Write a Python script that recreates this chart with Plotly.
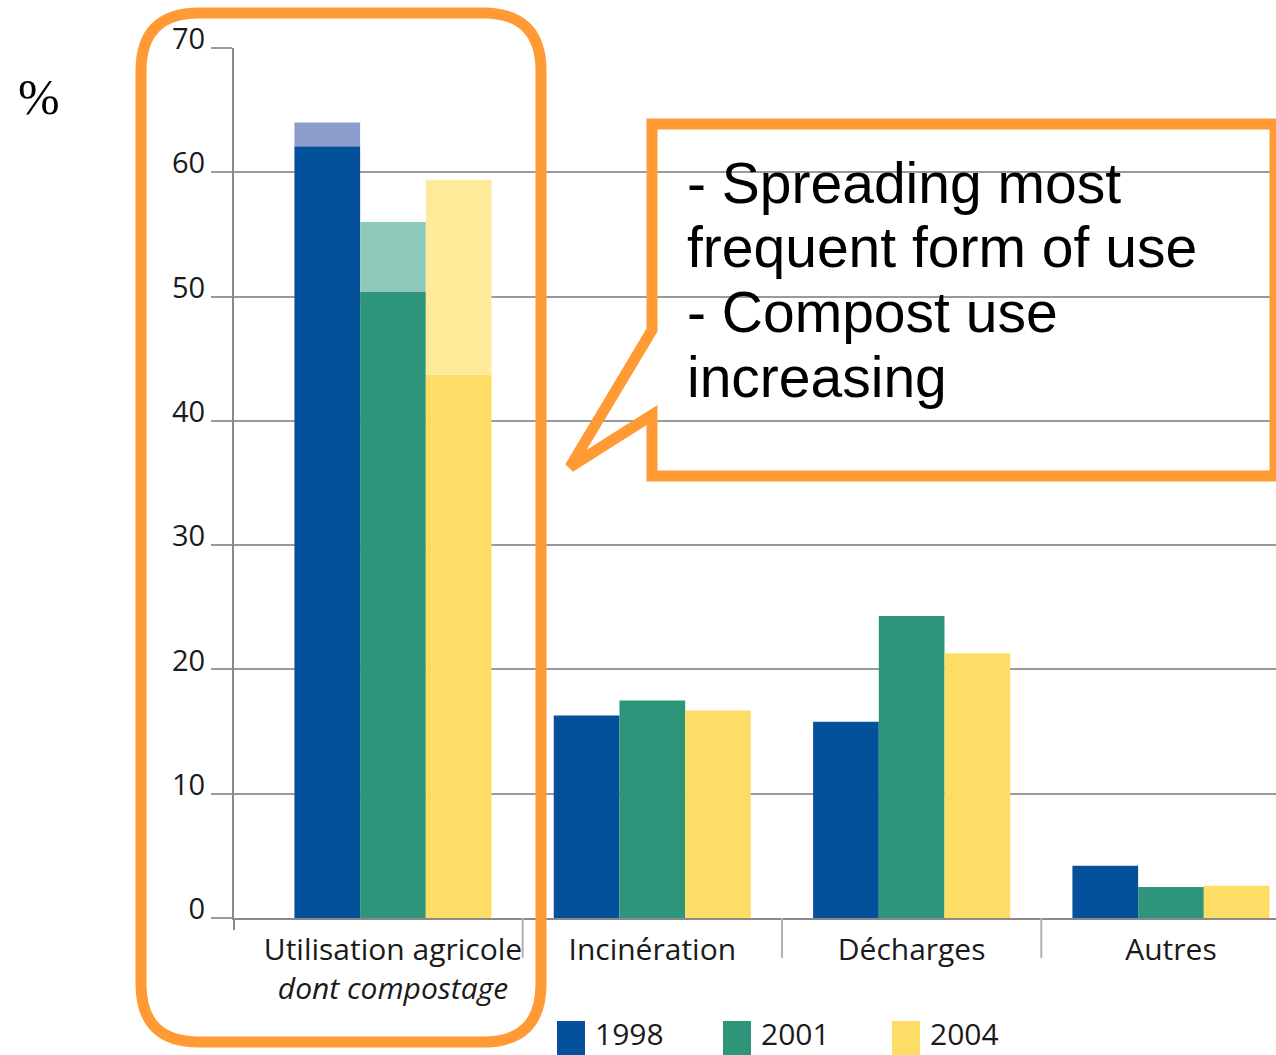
import plotly.graph_objects as go

# ---------------- data ----------------
categories = ["Utilisation agricole<br><i>dont compostage</i>", "Incinération", "Décharges", "Autres"]
years = ["1998", "2001", "2004"]
v1998 = [62.1, 16.3, 15.8, 4.2]
v2001 = [50.4, 17.5, 24.3, 2.5]
v2004 = [43.7, 16.7, 21.3, 2.6]
compost = [1.9, 5.6, 15.7]          # composting share on top of agricultural use, per year
y_ticks = [0, 10, 20, 30, 40, 50, 60, 70]
callout_lines = ["- Spreading most", "frequent form of use", "- Compost use", "increasing"]

dark_colors = ["#04509A", "#2F957A", "#FEDD66"]
light_colors = ["#8B9ECB", "#8DCABC", "#FEEA98"]
ORANGE = "#FF9A35"

# ---------------- layout geometry (pixels) ----------------
W, H = 1276, 1055
L, R, T, B = 234, 0, 48, 137
PW, PH = W - L - R, H - T - B


def px(x):
    return (x - L) / PW


def py(y):
    return (H - B - y) / PH


fig = go.Figure()
series = [v1998, v2001, v2004]
for i, yr in enumerate(years):
    fig.add_trace(go.Bar(x=categories, y=series[i], name=yr, offsetgroup=yr,
                         marker=dict(color=dark_colors[i], line=dict(width=0))))
for i, yr in enumerate(years):
    fig.add_trace(go.Bar(x=[categories[0]], y=[compost[i]], base=[series[i][0]],
                         name=yr + " compost", offsetgroup=yr, showlegend=False,
                         marker=dict(color=light_colors[i], line=dict(width=0))))

shapes = []
# category separators below the axis
for k in range(len(categories) - 1):
    shapes.append(dict(type="line", xref="x", yref="paper", x0=k + 0.5, x1=k + 0.5,
                       y0=0, y1=py(958), line=dict(color="#B0B0B0", width=2)))
# y-axis line extension below zero
shapes.append(dict(type="line", xref="paper", yref="paper", x0=0, x1=0, y0=0, y1=py(930),
                   line=dict(color="#8A8A8A", width=2)))

# rounded highlight frame around first category
x0r, x1r, y0r, y1r, rr = 141, 541, 13, 1042, 58


def P(x, y):
    return f"{px(x):.5f},{py(y):.5f}"


rpath = (f"M {P(x0r + rr, y0r)} L {P(x1r - rr, y0r)} Q {P(x1r, y0r)} {P(x1r, y0r + rr)} "
         f"L {P(x1r, y1r - rr)} Q {P(x1r, y1r)} {P(x1r - rr, y1r)} "
         f"L {P(x0r + rr, y1r)} Q {P(x0r, y1r)} {P(x0r, y1r - rr)} "
         f"L {P(x0r, y0r + rr)} Q {P(x0r, y0r)} {P(x0r + rr, y0r)} Z")
shapes.append(dict(type="path", xref="paper", yref="paper", path=rpath,
                   line=dict(color=ORANGE, width=11), layer="above"))

# speech-bubble callout
cpath = (f"M {P(1275, 124)} L {P(652, 124)} L {P(652, 330)} L {P(570, 467)} "
         f"L {P(652, 415)} L {P(652, 476)} L {P(1275, 476)} Z")
shapes.append(dict(type="path", xref="paper", yref="paper", path=cpath,
                   line=dict(color=ORANGE, width=11), layer="above"))

annotations = []
# callout text
line_y = [183, 247, 312, 377]
for t, yy in zip(callout_lines, line_y):
    annotations.append(dict(text=t, xref="paper", yref="paper", x=px(685), y=py(yy),
                            xanchor="left", yanchor="middle", showarrow=False,
                            font=dict(family="Liberation Sans", size=57, color="#000000")))
# % unit label
annotations.append(dict(text="%", xref="paper", yref="paper", x=px(39), y=py(97),
                        xanchor="center", yanchor="middle", showarrow=False,
                        font=dict(family="Liberation Serif", size=50, color="#000000")))

# custom legend
leg_x = [557, 723, 892]
for i, yr in enumerate(years):
    shapes.append(dict(type="rect", xref="paper", yref="paper",
                       x0=px(leg_x[i]), x1=px(leg_x[i] + 28), y0=py(1021), y1=py(1062),
                       fillcolor=dark_colors[i], line=dict(width=0)))
    annotations.append(dict(text=yr, xref="paper", yref="paper", x=px(leg_x[i] + 36), y=py(1033),
                            xanchor="left", yanchor="middle", showarrow=False,
                            font=dict(family="Open Sans", size=30, color="#1a1a1a")))

fig.update_layout(
    width=W, height=H,
    margin=dict(l=L, r=R, t=T, b=B, pad=0),
    paper_bgcolor="white", plot_bgcolor="white",
    barmode="group", bargap=0.24, bargroupgap=0,
    showlegend=False,
    font=dict(family="Open Sans", size=30, color="#1a1a1a"),
    shapes=shapes, annotations=annotations,
    xaxis=dict(type="category", range=[-0.613, 3.405], showgrid=False, zeroline=False,
               showline=True, linecolor="#8A8A8A", linewidth=2, ticks="",
               ticklabelstandoff=4,
               tickfont=dict(family="Open Sans", size=30, color="#1a1a1a")),
    yaxis=dict(range=[0, 70], tickvals=y_ticks, showgrid=True, gridcolor="#9A9A9A", gridwidth=2,
               zeroline=False, showline=True, linecolor="#8A8A8A", linewidth=2,
               ticks="outside", ticklen=21, tickwidth=2, tickcolor="#9A9A9A",
               ticklabelshift=-9,
               tickfont=dict(family="Open Sans", size=29, color="#1a1a1a")),
)

fig.write_html("out.html")
